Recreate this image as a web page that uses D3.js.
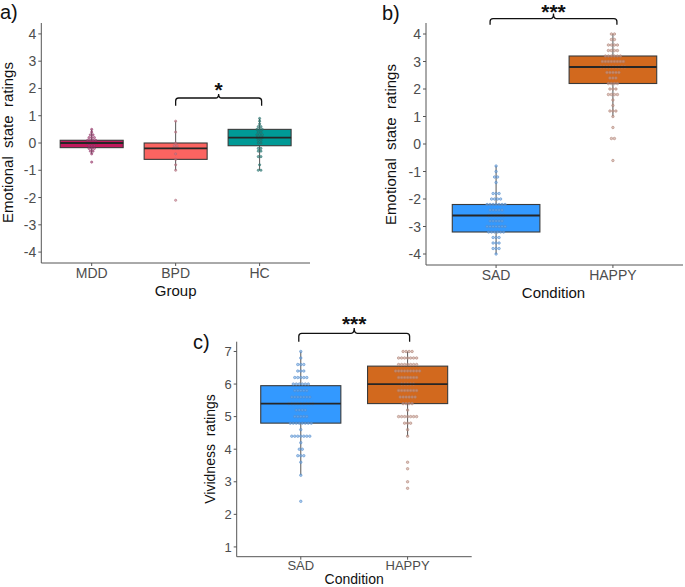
<!DOCTYPE html>
<html><head><meta charset="utf-8">
<script src="https://cdn.jsdelivr.net/npm/d3@7"></script>
<style>
body{margin:0;background:#fff;}
svg{display:block;font-family:"Liberation Sans",Arial,sans-serif;}
</style></head>
<body>
<svg id="chart" width="685" height="587"></svg>
<script>
// ---------------- DATA ----------------
// Panel a: emotional state ratings by group
const groupCats = ["MDD", "BPD", "HC"];
const groupQ1 = [-0.17, -0.6, -0.1];
const groupMedian = [0, -0.2, 0.2];
const groupQ3 = [0.1, 0, 0.5];
const groupWhiskerLow = [-0.4, -1.0, -1.0];
const groupWhiskerHigh = [0.5, 0.8, 0.9];
const mddLevels = [0.5, 0.4, 0.3, 0.2, 0.1, 0, -0.1, -0.2, -0.3, -0.4, -0.7];
const mddCounts = [1, 1, 2, 3, 4, 5, 3, 3, 2, 1, 1];
const bpdLevels = [0.8, 0.4, 0, -0.1, -0.2, -0.4, -0.6, -0.8, -1.0, -2.1];
const bpdCounts = [1, 1, 1, 2, 3, 1, 1, 1, 1, 1];
const hcLevels = [0.9, 0.8, 0.7, 0.6, 0.5, 0.4, 0.3, 0.2, 0.1, 0, -0.2, -0.3, -0.5, -0.8, -1.0];
const hcCounts = [1, 1, 1, 2, 3, 2, 3, 3, 2, 2, 2, 2, 2, 1, 2];

// Panel b: emotional state ratings by condition
const condCats = ["SAD", "HAPPY"];
const emoQ1 = [-3.2, 2.2];
const emoMedian = [-2.6, 2.8];
const emoQ3 = [-2.2, 3.2];
const emoWhiskerLow = [-4.0, 1.0];
const emoWhiskerHigh = [-0.8, 4.0];
const sadEmoLevels = [-0.8, -1.0, -1.2, -1.4, -1.8, -2.0, -2.2, -2.4, -2.6, -2.8, -3.0, -3.2, -3.4, -3.6, -3.8, -4.0];
const sadEmoCounts = [1, 1, 2, 1, 3, 4, 7, 5, 6, 5, 7, 6, 3, 3, 3, 1];
const happyEmoLevels = [4.0, 3.8, 3.6, 3.4, 3.2, 3.0, 2.8, 2.6, 2.4, 2.2, 2.0, 1.8, 1.6, 1.4, 1.2, 1.0, 0.6, 0.2, -0.6];
const happyEmoCounts = [2, 2, 4, 4, 6, 8, 9, 5, 3, 4, 3, 4, 1, 1, 3, 1, 1, 2, 1];

// Panel c: vividness ratings by condition
const vivQ1 = [4.8, 5.4];
const vivMedian = [5.4, 6.0];
const vivQ3 = [5.95, 6.55];
const vivWhiskerLow = [3.2, 4.4];
const vivWhiskerHigh = [7.0, 7.0];
const sadVivLevels = [7.0, 6.8, 6.6, 6.4, 6.2, 6.0, 5.8, 5.6, 5.4, 5.2, 5.0, 4.8, 4.6, 4.4, 4.2, 4.0, 3.8, 3.6, 3.2, 2.4];
const sadVivCounts = [1, 1, 3, 3, 5, 6, 5, 7, 9, 4, 5, 8, 1, 7, 1, 2, 3, 1, 1, 1];
const happyVivLevels = [7.0, 6.8, 6.6, 6.4, 6.2, 6.0, 5.8, 5.6, 5.4, 5.2, 5.0, 4.8, 4.6, 4.4, 3.6, 3.4, 3.0, 2.8];
const happyVivCounts = [4, 7, 7, 9, 7, 5, 7, 6, 4, 1, 7, 3, 1, 1, 1, 1, 1, 1];

const emoTicks = [-4, -3, -2, -1, 0, 1, 2, 3, 4];
const vivTicks = [1, 2, 3, 4, 5, 6, 7];

// ---------------- DRAW ----------------
const svg = d3.select("#chart");

function drawPanel(cfg) {
  const g = svg.append("g");
  const y = d3.scaleLinear().domain(cfg.yDomain).range([cfg.yBot, cfg.yTop]);
  const n = cfg.cats.length;
  // ggplot discrete expansion: 0.6 units each side
  const x = d3.scaleLinear().domain([0.4, n + 0.6]).range([cfg.x0, cfg.x1]);
  const xPos = c => x(cfg.cats.indexOf(c) + 1);
  const bw = (x(2) - x(1)) * 0.75;

  // boxes
  cfg.cats.forEach((c, i) => {
    const cx = xPos(c);
    g.append("line").attr("x1", cx).attr("x2", cx)
      .attr("y1", y(cfg.wlo[i])).attr("y2", y(cfg.q1[i]))
      .attr("stroke", "#555").attr("stroke-width", 1);
    g.append("line").attr("x1", cx).attr("x2", cx)
      .attr("y1", y(cfg.q3[i])).attr("y2", y(cfg.whi[i]))
      .attr("stroke", "#555").attr("stroke-width", 1);
    g.append("rect").attr("x", cx - bw / 2).attr("width", bw)
      .attr("y", y(cfg.q3[i])).attr("height", y(cfg.q1[i]) - y(cfg.q3[i]))
      .attr("fill", cfg.boxFill[i]).attr("stroke", "#3a3a3a").attr("stroke-width", 1.1);
  });
  // dots
  cfg.cats.forEach((c, i) => {
    const cx = xPos(c);
    const lv = cfg.levels[i], ct = cfg.counts[i];
    const pts = [];
    lv.forEach((v, k) => {
      for (let j = 0; j < ct[k]; j++) pts.push({v: v, off: j - (ct[k] - 1) / 2});
    });
    g.selectAll(null).data(pts).enter().append("circle")
      .attr("cx", d => cx + d.off * cfg.dotD)
      .attr("cy", d => y(d.v))
      .attr("r", cfg.dotD / 2 - 0.25)
      .attr("fill", cfg.dotFill[i]).attr("fill-opacity", 0.6)
      .attr("stroke", cfg.dotStroke[i]).attr("stroke-width", 0.6).attr("stroke-opacity", 0.9);
  });
  // median lines on top
  cfg.cats.forEach((c, i) => {
    const cx = xPos(c);
    g.append("line").attr("x1", cx - bw / 2).attr("x2", cx + bw / 2)
      .attr("y1", y(cfg.med[i])).attr("y2", y(cfg.med[i]))
      .attr("stroke", "#262626").attr("stroke-width", 1.8);
  });

  // axes
  g.append("line").attr("x1", cfg.x0).attr("x2", cfg.x0).attr("y1", cfg.yTop).attr("y2", cfg.yBot)
    .attr("stroke", "#555").attr("stroke-width", 1);
  g.append("line").attr("x1", cfg.x0).attr("x2", cfg.x1).attr("y1", cfg.yBot).attr("y2", cfg.yBot)
    .attr("stroke", "#555").attr("stroke-width", 1);
  cfg.ticks.forEach(t => {
    g.append("line").attr("x1", cfg.x0 - 3).attr("x2", cfg.x0).attr("y1", y(t)).attr("y2", y(t))
      .attr("stroke", "#555");
    g.append("text").attr("x", cfg.x0 - 5).attr("y", y(t)).attr("dy", "0.36em")
      .attr("text-anchor", "end").attr("font-size", cfg.tickFont).attr("fill", "#4d4d4d").text(t);
  });
  cfg.cats.forEach(c => {
    g.append("line").attr("x1", xPos(c)).attr("x2", xPos(c)).attr("y1", cfg.yBot).attr("y2", cfg.yBot + 3)
      .attr("stroke", "#555");
    g.append("text").attr("x", xPos(c)).attr("y", cfg.xLabelY).attr("text-anchor", "middle")
      .attr("font-size", cfg.tickFont).attr("fill", "#4d4d4d").text(c);
  });
  g.append("text").attr("x", (cfg.x0 + cfg.x1) / 2 + (cfg.xTitleShift || 0)).attr("y", cfg.xTitleY)
    .attr("text-anchor", "middle").attr("font-size", cfg.titleFont).attr("fill", "#111").text(cfg.xTitle);
  g.append("text").attr("transform", `translate(${cfg.yTitleX},${cfg.yTitleY}) rotate(-90)`)
    .attr("text-anchor", "middle").attr("font-size", cfg.titleFont).attr("fill", "#111")
    .style("white-space", "pre").text(cfg.yTitle);

  // significance bracket
  const b = cfg.bracket;
  const bx1 = xPos(b.from) + (b.dx1 || 0), bx2 = xPos(b.to) + (b.dx2 || 0), bm = (bx1 + bx2) / 2;
  const yl = y(b.line), ye = y(b.end), yp = y(b.peak), r = 3;
  const p = d3.path();
  p.moveTo(bx1, ye); p.lineTo(bx1, yl + r); p.quadraticCurveTo(bx1, yl, bx1 + r, yl);
  p.lineTo(bm - r, yl); p.quadraticCurveTo(bm, yl, bm, yp);
  p.quadraticCurveTo(bm, yl, bm + r, yl); p.lineTo(bx2 - r, yl);
  p.quadraticCurveTo(bx2, yl, bx2, yl + r); p.lineTo(bx2, ye);
  g.append("path").attr("d", p.toString()).attr("fill", "none").attr("stroke", "#111").attr("stroke-width", 1.3);
  const starSize = 21;
  const starBase = Math.max(y(b.star) + 0.573 * starSize, 0.92 * starSize);
  g.append("text").attr("x", bm).attr("y", starBase).attr("text-anchor", "middle")
    .attr("font-size", starSize).attr("font-weight", "bold").attr("fill", "#111").text(b.label);

  svg.append("text").attr("x", cfg.tagX).attr("y", cfg.tagY).attr("font-size", 20).attr("fill", "#111").text(cfg.tag);
}

drawPanel({
  tag: "a)", tagX: 0, tagY: 18.5,
  cats: groupCats, q1: groupQ1, med: groupMedian, q3: groupQ3, wlo: groupWhiskerLow, whi: groupWhiskerHigh,
  levels: [mddLevels, bpdLevels, hcLevels], counts: [mddCounts, bpdCounts, hcCounts],
  boxFill: ["#c01a5c", "#fb6461", "#009a96"],
  dotFill: ["#a8467a", "#c9838f", "#2f8580"], dotStroke: ["#8c2d60", "#a86171", "#1f6662"],
  x0: 41.3, x1: 310, yTop: 23, yBot: 263, yDomain: [-4.4, 4.4], ticks: emoTicks,
  tickFont: 14, titleFont: 15, dotD: 2.7,
  xLabelY: 278, xTitleY: 296, xTitle: "Group", xTitleShift: 0,
  yTitle: "Emotional  state  ratings", yTitleX: 12.5, yTitleY: 142.5,
  bracket: {from: "BPD", to: "HC", line: 1.65, end: 1.37, peak: 1.8, star: 2.12, label: "*", dx2: 2}
});

drawPanel({
  tag: "b)", tagX: 382, tagY: 20,
  cats: condCats, q1: emoQ1, med: emoMedian, q3: emoQ3, wlo: emoWhiskerLow, whi: emoWhiskerHigh,
  levels: [sadEmoLevels, happyEmoLevels], counts: [sadEmoCounts, happyEmoCounts],
  boxFill: ["#3399ff", "#d2691e"],
  dotFill: ["#7aaee6", "#c9a094"], dotStroke: ["#4f86c6", "#a97c6f"],
  x0: 426, x1: 683, yTop: 23, yBot: 265, yDomain: [-4.4, 4.4], ticks: emoTicks,
  tickFont: 14, titleFont: 15, dotD: 3,
  xLabelY: 280, xTitleY: 297.5, xTitle: "Condition", xTitleShift: -1,
  yTitle: "Emotional  state  ratings", yTitleX: 396, yTitleY: 144.5,
  bracket: {from: "SAD", to: "HAPPY", line: 4.56, end: 4.34, peak: 4.75, star: 5.12, label: "***", dx1: -6, dx2: 4}
});

drawPanel({
  tag: "c)", tagX: 193, tagY: 349,
  cats: condCats, q1: vivQ1, med: vivMedian, q3: vivQ3, wlo: vivWhiskerLow, whi: vivWhiskerHigh,
  levels: [sadVivLevels, happyVivLevels], counts: [sadVivCounts, happyVivCounts],
  boxFill: ["#3399ff", "#d2691e"],
  dotFill: ["#7aaee6", "#c9a094"], dotStroke: ["#4f86c6", "#a97c6f"],
  x0: 236.7, x1: 471.7, yTop: 341.7, yBot: 556.7, yDomain: [0.7, 7.3], ticks: vivTicks,
  tickFont: 13, titleFont: 14, dotD: 3,
  xLabelY: 569.5, xTitleY: 583.5, xTitle: "Condition", xTitleShift: 0,
  yTitle: "Vividness  ratings", yTitleX: 215, yTitleY: 449,
  bracket: {from: "SAD", to: "HAPPY", line: 7.557, end: 7.30, peak: 7.72, star: 7.996, label: "***", dx1: -2, dx2: 2}
});
</script>
</body></html>
